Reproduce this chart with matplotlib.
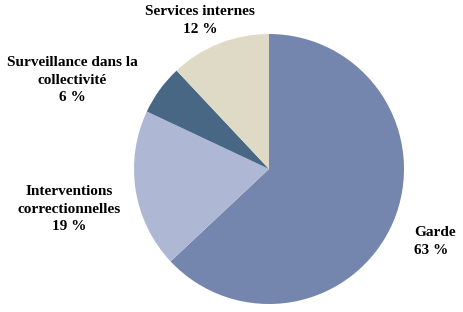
import matplotlib
matplotlib.use('Agg')
import matplotlib.pyplot as plt

categories = ['Garde', 'Interventions\ncorrectionnelles', 'Surveillance dans la\ncollectivité', 'Services internes']
values = [63, 19, 6, 12]
colors = ['#7486AE', '#AEB8D5', '#476785', '#DEDAC5']

plt.rcParams['font.family'] = ['Liberation Serif', 'DejaVu Serif']

fig = plt.figure(figsize=(4.64, 3.12), dpi=100)
W, H = 464, 312

# pie centre ~ (269, 169) px, radius ~135 px
cx, cy, r = 269, 169, 135
ax = fig.add_axes([(cx - r) / W, (H - cy - r) / H, 2 * r / W, 2 * r / H])
ax.pie(values, colors=colors, startangle=90, counterclock=False, radius=1,
       wedgeprops={'linewidth': 0})
ax.set_xlim(-1, 1)
ax.set_ylim(-1, 1)
ax.set_aspect('equal')
ax.set_axis_off()

# label positions in pixels (x, top y), alignment
label_pos = [(414, 226, 'left'), (69, 185, 'center'), (72, 56, 'center'), (200, 5, 'center')]
for cat, val, (x, y, ha) in zip(categories, values, label_pos):
    fig.text(x / W, 1 - y / H, '{}\n{} %'.format(cat, val), ha=ha, va='top',
             fontsize=11, fontweight='bold', linespacing=1.47, color='black')

fig.savefig('out.png', dpi=100)
